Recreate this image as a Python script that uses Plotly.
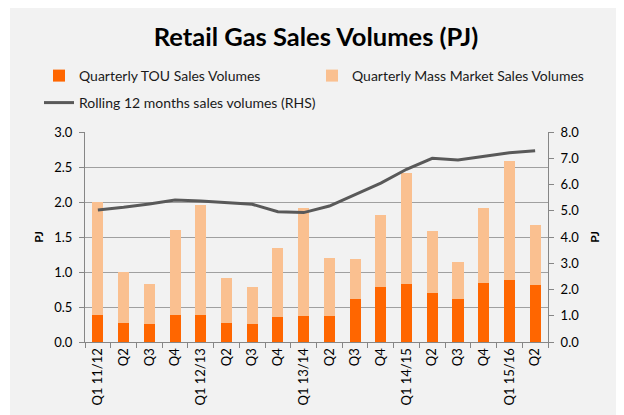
import plotly.graph_objects as go

categories = ["Q1 11/12", "Q2", "Q3", "Q4", "Q1 12/13", "Q2", "Q3", "Q4",
              "Q1 13/14", "Q2", "Q3", "Q4", "Q1 14/15", "Q2", "Q3", "Q4",
              "Q1 15/16", "Q2"]
tou = [0.38, 0.27, 0.26, 0.38, 0.39, 0.27, 0.26, 0.36, 0.37, 0.37, 0.62, 0.79,
       0.83, 0.70, 0.62, 0.85, 0.89, 0.81]
total = [2.00, 1.00, 0.83, 1.60, 1.96, 0.92, 0.78, 1.34, 1.92, 1.20, 1.19, 1.81,
         2.42, 1.59, 1.14, 1.91, 2.58, 1.67]
mass_market = [round(t - u, 2) for t, u in zip(total, tou)]
rolling = [5.03, 5.13, 5.26, 5.41, 5.37, 5.31, 5.25, 4.96, 4.93, 5.18, 5.60, 6.05,
           6.58, 7.00, 6.93, 7.06, 7.21, 7.29]

x = list(range(len(categories)))
FONT = "Lato"
GREY_BG = "#F2F2F2"

# page has an 8px body margin; figure is sized/placed to compensate
W, H = 616, 407
ML, MR, MT, MB = 77, 76, 124, 73
PW, PH = W - ML - MR, H - MT - MB


def px_x(page_x):
    return (page_x - 8 - ML) / PW


def px_y(page_y):
    return 1 + (MT - (page_y - 8)) / PH


fig = go.Figure()
fig.add_trace(go.Bar(x=x, y=tou, name="Quarterly TOU Sales Volumes",
                     marker=dict(color="#FF6600", line=dict(width=0)), legend="legend"))
fig.add_trace(go.Bar(x=x, y=mass_market, name="Quarterly Mass Market Sales Volumes",
                     marker=dict(color="#FAC090", line=dict(width=0)), legend="legend2"))
fig.add_trace(go.Scatter(x=x, y=rolling, name="Rolling 12 months sales volumes (RHS)",
                         mode="lines", line=dict(color="#595959", width=3),
                         yaxis="y2", legend="legend3"))

leg_common = dict(orientation="h", xanchor="left", yanchor="middle",
                  bgcolor="rgba(0,0,0,0)", font=dict(family=FONT, size=14, color="#1a1a1a"))

fig.update_layout(
    width=W, height=H,
    margin=dict(l=ML, r=MR, t=MT, b=MB, autoexpand=False),
    paper_bgcolor="white",
    plot_bgcolor=GREY_BG,
    barmode="stack",
    bargap=0.57,
    font=dict(family=FONT, size=13, color="#000000"),
    title=dict(text="<b>Retail Gas Sales Volumes (PJ)</b>", x=0.5, xanchor="center",
               y=1 - 29 / H, yanchor="middle", font=dict(family=FONT, size=25.5, color="black")),
    showlegend=True,
    legend=dict(x=px_x(39), y=px_y(76), **leg_common),
    legend2=dict(x=px_x(312), y=px_y(76), **leg_common),
    legend3=dict(x=px_x(39), y=px_y(103), **leg_common),
    xaxis=dict(range=[-0.5, len(categories) - 0.5], tickmode="array", tickvals=x,
               ticktext=categories, tickangle=-90, ticks="", showgrid=False,
               showline=True, linecolor="#868686", linewidth=1,
               tickfont=dict(family=FONT, size=13, color="#000000"),
               minor=dict(tick0=-0.5, dtick=1, ticks="outside", ticklen=5,
                          tickcolor="#868686", showgrid=False),
               zeroline=False),
    yaxis=dict(range=[0, 3], dtick=0.5, tickformat=".1f", showgrid=True,
               gridcolor="#A0A0A0", gridwidth=1, showline=True, linecolor="#868686",
               ticks="outside", ticklen=5, tickcolor="#868686", zeroline=False,
               ticklabelstandoff=4,
               tickfont=dict(family=FONT, size=13, color="#000000"),
               title=dict(text="<b>PJ</b>", font=dict(family=FONT, size=12), standoff=8)),
    yaxis2=dict(range=[0, 8], dtick=1, tickformat=".1f", overlaying="y", side="right",
                showgrid=False, showline=True, linecolor="#868686", ticks="outside",
                ticklen=5, tickcolor="#868686", zeroline=False,
                ticklabelstandoff=4,
                tickfont=dict(family=FONT, size=13, color="#000000"),
                title=dict(text="<b>PJ</b>", font=dict(family=FONT, size=12), standoff=12)),
    shapes=[dict(type="rect", xref="paper", yref="paper", layer="below",
                 x0=px_x(10), x1=px_x(618),
                 y0=px_y(420), y1=px_y(7),
                 fillcolor=GREY_BG, line=dict(width=0))],
)

fig.write_html("out.html")
